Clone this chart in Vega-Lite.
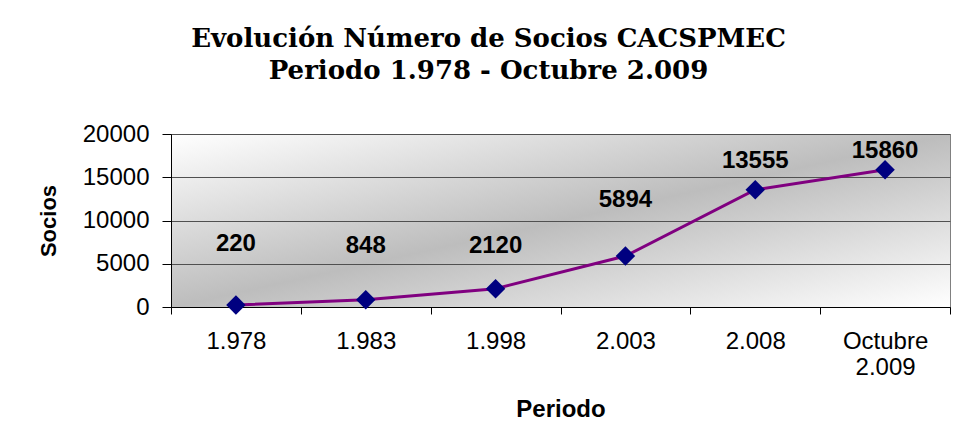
{
  "$schema": "https://vega.github.io/schema/vega-lite/v6.json",
  "autosize": "none",
  "width": 779,
  "height": 173,
  "padding": {"left": 171, "top": 134, "right": 6, "bottom": 133},
  "background": "white",
  "title": {
    "text": ["Evolución Número de Socios CACSPMEC", "Periodo 1.978 - Octubre 2.009"],
    "font": "DejaVu Serif",
    "fontWeight": "bold",
    "fontSize": 26,
    "lineHeight": 32,
    "color": "black",
    "anchor": "middle",
    "frame": "group",
    "dx": -72,
    "offset": 38
  },
  "data": {
    "values": [
      {"periodo": "1.978", "socios": 220, "posEtiqueta": 7280},
      {"periodo": "1.983", "socios": 848, "posEtiqueta": 7050},
      {"periodo": "1.998", "socios": 2120, "posEtiqueta": 7050},
      {"periodo": "2.003", "socios": 5894, "posEtiqueta": 12370},
      {"periodo": "2.008", "socios": 13555, "posEtiqueta": 16880},
      {"periodo": "Octubre 2.009", "socios": 15860, "posEtiqueta": 18030}
    ]
  },
  "encoding": {
    "x": {
      "field": "periodo",
      "type": "nominal",
      "sort": null,
      "title": "Periodo",
      "axis": {
        "labelAngle": 0,
        "tickBand": "extent",
        "labelExpr": "datum.value == 'Octubre 2.009' ? ['Octubre', '2.009'] : datum.value",
        "labelLineHeight": 26,
        "labelFont": "Liberation Sans",
        "labelFontSize": 24,
        "labelColor": "black",
        "labelPadding": 15,
        "tickSize": 7,
        "tickColor": "black",
        "domainColor": "black",
        "titleFont": "Liberation Sans",
        "titleFontSize": 24,
        "titleFontWeight": "bold",
        "titleColor": "black",
        "titlePadding": 18,
        "grid": false
      }
    }
  },
  "layer": [
    {
      "mark": {"type": "line", "color": "#800080", "strokeWidth": 3},
      "encoding": {
        "y": {
          "field": "socios",
          "type": "quantitative",
          "title": "Socios",
          "scale": {"domain": [0, 20000], "nice": false},
          "axis": {
            "values": [0, 5000, 10000, 15000, 20000],
            "format": "d",
            "grid": true,
            "gridColor": "#505050",
            "gridOpacity": 1,
            "labelFont": "Liberation Sans",
            "labelFontSize": 24,
            "labelColor": "black",
            "labelPadding": 13,
            "tickSize": 9,
            "tickColor": "black",
            "domainColor": "black",
            "titleFont": "Liberation Sans",
            "titleFontSize": 22,
            "titleFontWeight": "bold",
            "titleColor": "black",
            "titlePadding": 22
          }
        }
      }
    },
    {
      "mark": {"type": "point", "shape": "diamond", "filled": true, "color": "#000080", "opacity": 1, "size": 380},
      "encoding": {
        "y": {"field": "socios", "type": "quantitative"}
      }
    },
    {
      "mark": {"type": "text", "font": "Liberation Sans", "fontSize": 24, "fontWeight": "bold", "color": "black", "baseline": "middle"},
      "encoding": {
        "y": {"field": "posEtiqueta", "type": "quantitative"},
        "text": {"field": "socios", "type": "quantitative", "format": "d"}
      }
    }
  ],
  "config": {
    "view": {
      "stroke": "#808080",
      "strokeWidth": 1,
      "fill": {
        "gradient": "linear",
        "x1": 0, "y1": 0, "x2": 1, "y2": 1,
        "stops": [
          {"offset": 0, "color": "#ffffff"},
          {"offset": 0.5, "color": "#bdbdbd"},
          {"offset": 1, "color": "#ffffff"}
        ]
      }
    }
  }
}
